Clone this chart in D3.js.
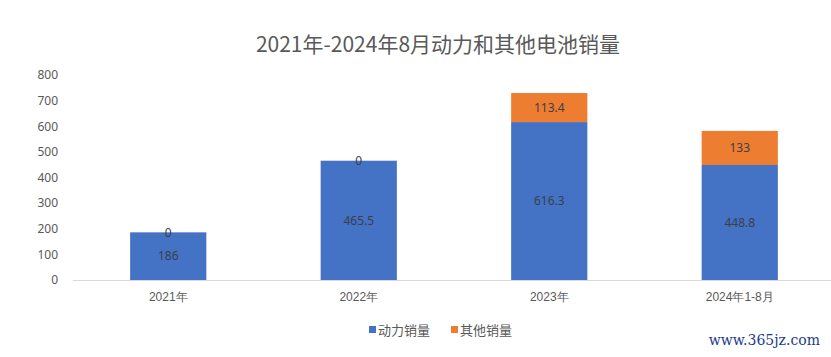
<!DOCTYPE html>
<html><head><meta charset="utf-8">
<script src="https://cdn.jsdelivr.net/npm/d3@7"></script>
<style>body{margin:0;background:#fff;}svg{display:block;font-family:"Noto Sans CJK SC","Noto Sans",sans-serif;}</style>
</head><body>
<svg id="c" width="831" height="357"></svg>
<script>
const categories = ["2021年","2022年","2023年","2024年1-8月"];
const powerSales = [186, 465.5, 616.3, 448.8];
const otherSales = [0, 0, 113.4, 133];
const seriesNames = ["动力销量","其他销量"];
const yTicks = [0,100,200,300,400,500,600,700,800];
const colors = ["#4472C4","#ED7D31"];
const title = "2021年-2024年8月动力和其他电池销量";

const svg = d3.select("#c");
const x = d3.scaleBand().domain(categories).range([73, 835]).paddingInner(0.6).paddingOuter(0.3);
const y = d3.scaleLinear().domain([0, 800]).range([280, 75]);

svg.append("text").attr("x", 438).attr("y", 52).attr("text-anchor","middle")
  .attr("font-size", 21).attr("fill","#595959").text(title);

// y axis labels
const yAxis = svg.append("g").attr("transform","translate(60,0)")
  .call(d3.axisLeft(y).tickValues(yTicks).tickSize(0).tickPadding(2));
yAxis.select(".domain").remove();
yAxis.selectAll("text").attr("font-size",12).attr("fill","#595959").attr("font-family","'Noto Sans', sans-serif");

// x axis
const xAxis = svg.append("g").attr("transform","translate(0,280)")
  .call(d3.axisBottom(x).tickSize(0).tickPadding(12));
xAxis.select(".domain").attr("stroke","#D9D9D9").attr("d","M73,0.5H831");
xAxis.selectAll("text").attr("font-size",12).attr("fill","#595959");

const data = categories.map((c,i)=>({cat:c, p:powerSales[i], o:otherSales[i]}));
const g = svg.append("g");
g.selectAll(".p").data(data).join("rect")
  .attr("x", d=>x(d.cat)).attr("width", x.bandwidth())
  .attr("y", d=>y(d.p)).attr("height", d=>y(0)-y(d.p)).attr("fill", colors[0]);
g.selectAll(".o").data(data).join("rect")
  .attr("x", d=>x(d.cat)).attr("width", x.bandwidth())
  .attr("y", d=>y(d.p+d.o)).attr("height", d=>y(d.p)-y(d.p+d.o)).attr("fill", colors[1]);

g.selectAll(".pl").data(data).join("text")
  .attr("x", d=>x(d.cat)+x.bandwidth()/2).attr("y", d=>(y(0)+y(d.p))/2)
  .attr("dy","0.35em").attr("text-anchor","middle").attr("font-size",12)
  .attr("fill","#3a3f4a").attr("font-family","'Noto Sans', sans-serif").text(d=>d.p);
g.selectAll(".ol").data(data).join("text")
  .attr("x", d=>x(d.cat)+x.bandwidth()/2).attr("y", d=>(y(d.p)+y(d.p+d.o))/2)
  .attr("dy","0.35em").attr("text-anchor","middle").attr("font-size",12)
  .attr("fill","#3a3f4a").attr("font-family","'Noto Sans', sans-serif").text(d=>d.o);

// legend
const legX = [369, 451];
seriesNames.forEach((n,i)=>{
  svg.append("rect").attr("x", legX[i]).attr("y", 326).attr("width",7).attr("height",7).attr("fill",colors[i]);
  svg.append("text").attr("x", legX[i]+9).attr("y", 330).attr("dy","0.35em")
    .attr("font-size",13).attr("fill","#595959").text(n);
});

// watermark
svg.append("text").attr("x", 820).attr("y", 345).attr("text-anchor","end")
  .attr("font-size",14).attr("fill","#1c3a8c").attr("font-family","'DejaVu Serif', serif").text("www.365jz.com");
</script>
</body></html>
